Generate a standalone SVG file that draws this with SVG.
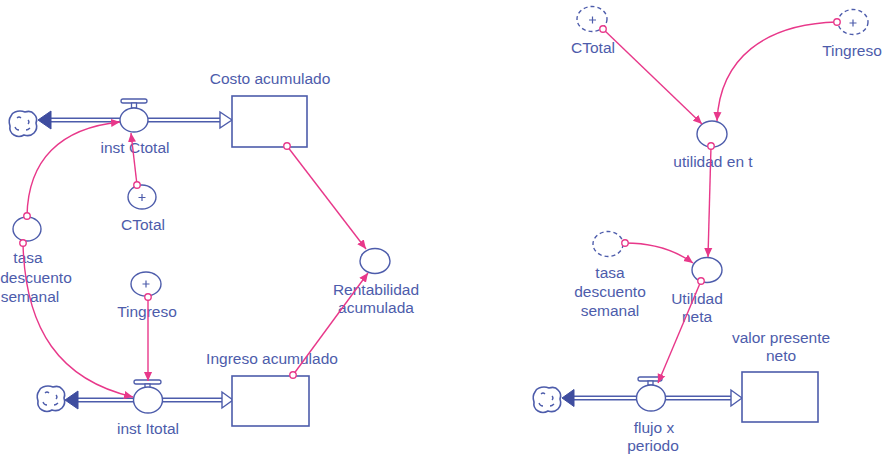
<svg xmlns="http://www.w3.org/2000/svg" width="884" height="456" viewBox="0 0 884 456">
<style>
.t{font-family:"Liberation Sans",Arial,sans-serif;font-size:15.5px;fill:#4d5cab;text-anchor:middle}
.n{fill:#fff;stroke:#4d5cab;stroke-width:1.4}
.g{fill:#fff;stroke:#4d5cab;stroke-width:1.4;stroke-dasharray:4 3}
.plus{stroke:#4d5cab;stroke-width:1.2}
.pipeo{stroke:#4d5cab;stroke-width:5;fill:none}
.pipei{stroke:#fff;stroke-width:2;fill:none}
.fa{fill:#3f4d9f;stroke:#3f4d9f;stroke-width:1}
.ha{fill:#fff;stroke:#4d5cab;stroke-width:1.4}
.box{fill:#fff;stroke:#4d5cab;stroke-width:1.6}
.vb{fill:#fff;stroke:#4d5cab;stroke-width:1.3}
.lk{fill:none;stroke:#e8388a;stroke-width:1.4;marker-start:url(#o);marker-end:url(#a)}
.cl{fill:#fff;stroke:#4d5cab;stroke-width:1.6}
.cli{fill:none;stroke:#4d5cab;stroke-width:1.3}
</style>
<defs>
<marker id="a" viewBox="0 0 10 10" refX="10" refY="5" markerWidth="9" markerHeight="9" markerUnits="userSpaceOnUse" orient="auto"><path d="M0,0.5 L10,5 L0,9.5 z" fill="#e8388a"/></marker>
<marker id="o" viewBox="0 0 10 10" refX="5" refY="5" markerWidth="9" markerHeight="9" markerUnits="userSpaceOnUse"><circle cx="5" cy="5" r="3.6" fill="#fff" stroke="#e8388a" stroke-width="1.5"/></marker>
<g id="cloud">
<path class="cl" d="M-8,-12 Q-3,-14 2,-12 Q8,-14 11,-10 Q15,-6 13,-1 Q15,5 11,9 Q7,13 1,11 Q-4,14 -9,11 Q-14,8 -13,2 Q-15,-4 -12,-8 Q-11,-11 -8,-12 Z"/>
<path class="cli" d="M-6,-6 q2,-2 4,0 M5,-4 q2,2 0,4 M-8,3 q1,3 4,3 M3,6 q2,0 4,-2"/>
</g>
</defs>

<!-- Left: Costo flow -->
<g id="cloud1"><use href="#cloud" x="23" y="124"/></g>
<g id="flow-inst-ctotal">
<line class="pipeo" x1="50" y1="120" x2="121" y2="120"/><line class="pipei" x1="48" y1="120" x2="121" y2="120"/>
<line class="pipeo" x1="147" y1="120" x2="221" y2="120"/><line class="pipei" x1="147" y1="120" x2="223" y2="120"/>
<path class="fa" d="M38,120 L51,111 L51,129 z"/>
<path class="ha" d="M232,120 L220,112 L220,128 z"/>
<rect class="vb" x="121" y="99" width="26" height="4" rx="2"/>
<rect class="vb" x="131.5" y="103" width="5" height="5"/>
<ellipse class="n" cx="134" cy="120" rx="14" ry="12"/>
<text class="t" x="135" y="153">inst Ctotal</text>
</g>
<g id="costo-acumulado">
<rect class="box" x="232" y="96" width="75" height="51"/>
<text class="t" x="270" y="84">Costo acumulado</text>
</g>
<g id="ctotal-left">
<ellipse class="n" cx="142" cy="197" rx="14" ry="12"/>
<path class="plus" d="M138.5,197.5 h7 M142,194 v7"/>
<text class="t" x="143" y="230">CTotal</text>
</g>
<g id="tasa-left">
<ellipse class="n" cx="27" cy="229" rx="14" ry="12"/>
<text class="t" x="28" y="263">tasa</text>
<text class="t" x="36" y="283">descuento</text>
<text class="t" x="30" y="302">semanal</text>
</g>
<g id="tingreso-left">
<ellipse class="n" cx="146" cy="284" rx="15" ry="12"/>
<path class="plus" d="M142.5,284 h7 M146,280.5 v7"/>
<text class="t" x="147" y="317">Tingreso</text>
</g>
<g id="rentabilidad">
<ellipse class="n" cx="375" cy="261" rx="15" ry="12.5"/>
<text class="t" x="376" y="295">Rentabilidad</text>
<text class="t" x="376" y="313">acumulada</text>
</g>
<!-- Left: Ingreso flow -->
<g id="cloud2"><use href="#cloud" x="51" y="399"/></g>
<g id="flow-inst-itotal">
<line class="pipeo" x1="77" y1="400" x2="134" y2="400"/><line class="pipei" x1="75" y1="400" x2="134" y2="400"/>
<line class="pipeo" x1="161" y1="400" x2="222" y2="400"/><line class="pipei" x1="161" y1="400" x2="224" y2="400"/>
<path class="fa" d="M65,400 L78,391 L78,409 z"/>
<path class="ha" d="M233,400 L222,392 L222,408 z"/>
<rect class="vb" x="134" y="380" width="27" height="4" rx="2"/>
<rect class="vb" x="145" y="384" width="5" height="4"/>
<ellipse class="n" cx="148" cy="400" rx="14.5" ry="13"/>
<text class="t" x="148" y="434">inst Itotal</text>
</g>
<g id="ingreso-acumulado">
<rect class="box" x="232" y="376" width="77" height="50"/>
<text class="t" x="272" y="364">Ingreso acumulado</text>
</g>

<!-- Right -->
<g id="ctotal-ghost">
<ellipse class="g" cx="592" cy="19" rx="15" ry="12.5"/>
<path class="plus" d="M589,20 h7 M592.5,16.5 v7"/>
<text class="t" x="593" y="53">CTotal</text>
</g>
<g id="tingreso-ghost">
<ellipse class="g" cx="853" cy="22" rx="15" ry="12.5"/>
<path class="plus" d="M849.5,23 h7 M853,19.5 v7"/>
<text class="t" x="852" y="56">Tingreso</text>
</g>
<g id="utilidad-en-t">
<ellipse class="n" cx="712" cy="134" rx="15" ry="13"/>
<text class="t" x="713" y="167">utilidad en t</text>
</g>
<g id="tasa-ghost">
<ellipse class="g" cx="608" cy="244" rx="15" ry="12.5"/>
<text class="t" x="610" y="278">tasa</text>
<text class="t" x="610" y="297">descuento</text>
<text class="t" x="610" y="316">semanal</text>
</g>
<g id="utilidad-neta">
<ellipse class="n" cx="707" cy="270" rx="15" ry="12.5"/>
<text class="t" x="697" y="304">Utilidad</text>
<text class="t" x="697" y="322">neta</text>
</g>
<g id="cloud3"><use href="#cloud" x="547" y="400"/></g>
<g id="flow-flujo">
<line class="pipeo" x1="573" y1="398" x2="637" y2="398"/><line class="pipei" x1="571" y1="398" x2="637" y2="398"/>
<line class="pipeo" x1="665" y1="398" x2="733" y2="398"/><line class="pipei" x1="665" y1="398" x2="735" y2="398"/>
<path class="fa" d="M562,398 L574,389.5 L574,406.5 z"/>
<path class="ha" d="M742,398 L731,390 L731,406 z"/>
<rect class="vb" x="638" y="377" width="24" height="4" rx="2"/>
<rect class="vb" x="648" y="381" width="5" height="4"/>
<ellipse class="n" cx="651" cy="398" rx="14.5" ry="13"/>
<text class="t" x="654" y="433">flujo x</text>
<text class="t" x="653" y="451">periodo</text>
</g>
<g id="valor-presente-neto">
<rect class="box" x="742" y="372" width="76" height="50"/>
<text class="t" x="781" y="343">valor presente</text>
<text class="t" x="781" y="361">neto</text>
</g>

<g id="connectors">
<path class="lk" d="M137,185 L131,133"/>
<path class="lk" d="M27,216 C28,160 60,128 120,122"/>
<path class="lk" d="M23,243 C25,330 60,380 133,397"/>
<path class="lk" d="M148,297 L148,381"/>
<path class="lk" d="M287,146 L366,249"/>
<path class="lk" d="M293,375 L368,273"/>
<path class="lk" d="M603,29 L702,124"/>
<path class="lk" d="M837,22 C765,24 720,58 717,121"/>
<path class="lk" d="M711,146 L708,257"/>
<path class="lk" d="M625,243 Q665,243 693,263"/>
<path class="lk" d="M701,281 L658,383"/>
</g>
</svg>
